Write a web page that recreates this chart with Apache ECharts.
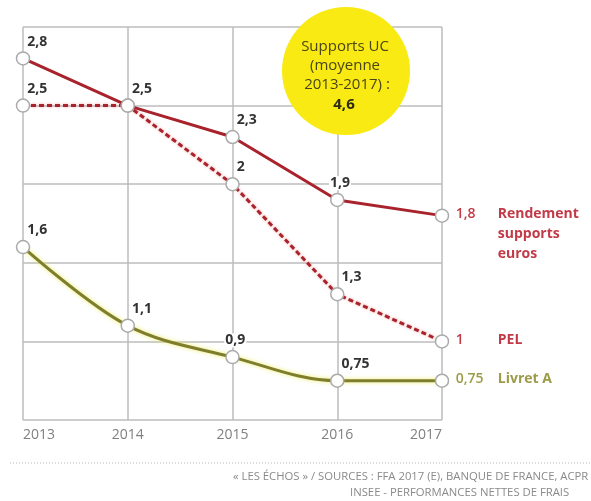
<!DOCTYPE html>
<html>
<head>
<meta charset="utf-8">
<script src="https://cdn.jsdelivr.net/npm/echarts@6/dist/echarts.min.js"></script>
<style>html,body{margin:0;padding:0;background:#fff}#c{width:591px;height:501px}</style>
</head>
<body>
<div id="c"></div>
<script>
var years = ['2013', '2014', '2015', '2016', '2017'];
var rendement = [2.8, 2.5, 2.3, 1.9, 1.8];
var pel = [2.5, 2.5, 2.0, 1.3, 1.0];
var livret = [1.6, 1.1, 0.9, 0.75, 0.75];
var rendementLabels = ['2,8', '2,5', '2,3', '1,9', '1,8'];
var pelLabels = ['2,5', '', '2', '1,3', '1'];
var livretLabels = ['1,6', '1,1', '0,9', '0,75', '0,75'];
var yTicks = [0.5, 1, 1.5, 2, 2.5, 3];
var endNames = { rendement: ['Rendement', 'supports', 'euros'], pel: ['PEL'], livret: ['Livret A'] };
var bubbleLines = ['Supports UC', '(moyenne', '2013-2017) :', '4,6'];
var footerLines = ['« LES ÉCHOS » / SOURCES : FFA 2017 (E), BANQUE DE FRANCE, ACPR', 'INSEE - PERFORMANCES NETTES DE FRAIS'];

var RED = '#a8232c', LRED = '#c23a47', OLIVE = '#7e7e2c', LOLIVE = '#9c9c48';
var FONT = '"Open Sans", sans-serif';

function pointLabel(txt, centered) {
  return {
    show: txt !== '',
    formatter: txt,
    position: centered ? [10, -9.5] : [10.5, -9.5],
    align: centered ? 'center' : 'left',
    verticalAlign: 'middle',
    fontFamily: FONT, fontWeight: 'bold', fontSize: 14, color: '#333',
    backgroundColor: '#fff', padding: [0, 1]
  };
}
function endLabel(valTxt, names, vColor, nColor) {
  var s = '{v|' + valTxt + '}{n|' + names[0] + '}';
  for (var i = 1; i < names.length; i++) s += '\n{v|}{n|' + names[i] + '}';
  return {
    show: true,
    formatter: s,
    position: [21, -4],
    align: 'left', verticalAlign: 'top',
    rich: {
      v: { width: 42, fontFamily: FONT, fontSize: 14, fontWeight: 600, color: vColor, lineHeight: 20, height: 20 },
      n: { fontFamily: FONT, fontSize: 14, fontWeight: 'bold', color: nColor, lineHeight: 20, height: 20 }
    }
  };
}
function buildData(vals, labels, centeredIdx, endCfg) {
  return vals.map(function (v, i) {
    if (i === vals.length - 1) return { value: v, label: endCfg };
    return { value: v, label: pointLabel(labels[i], centeredIdx.indexOf(i) >= 0) };
  });
}

var marker = { color: '#fff', borderColor: '#aaa', borderWidth: 1.5 };
var bubbleText = { fontFamily: FONT, fontSize: 15, fill: '#4a4618', align: 'center', verticalAlign: 'middle' };

var chart = echarts.init(document.getElementById('c'), null, { renderer: 'canvas' });
chart.setOption({
  backgroundColor: '#fff',
  animation: false,
  grid: { left: 23, right: 149, top: 27, bottom: 81 },
  xAxis: {
    type: 'category', data: years, boundaryGap: false,
    axisLine: { show: false }, axisTick: { show: false },
    axisLabel: { color: '#808080', fontSize: 14, fontFamily: FONT, margin: 8, alignMinLabel: 'left', alignMaxLabel: 'right' },
    splitLine: { show: true, lineStyle: { color: '#bdbdbd', width: 1.5 } }
  },
  yAxis: {
    type: 'value', min: yTicks[0], max: yTicks[yTicks.length - 1], interval: 0.5,
    axisLine: { show: false }, axisTick: { show: false }, axisLabel: { show: false },
    splitLine: { show: true, lineStyle: { color: '#bdbdbd', width: 1.5 } }
  },
  series: [
    {
      name: 'Livret A', type: 'line', smooth: 0.35, z: 3,
      data: buildData(livret, livretLabels, [2], endLabel(livretLabels[4], endNames.livret, LOLIVE, LOLIVE)),
      symbol: 'circle', symbolSize: 13, itemStyle: marker,
      lineStyle: { color: OLIVE, width: 3, shadowColor: 'rgba(235,235,90,0.9)', shadowBlur: 4 }
    },
    {
      name: 'PEL', type: 'line', z: 4,
      data: buildData(pel, pelLabels, [], endLabel(pelLabels[4], endNames.pel, LRED, LRED)),
      symbol: 'circle', symbolSize: 13, itemStyle: marker,
      lineStyle: { color: RED, width: 3, type: [5, 3], shadowColor: 'rgba(240,140,140,0.8)', shadowBlur: 3 }
    },
    {
      name: 'Rendement supports euros', type: 'line', z: 5,
      data: buildData(rendement, rendementLabels, [3], endLabel(rendementLabels[4], endNames.rendement, LRED, LRED)),
      symbol: 'circle', symbolSize: 13, itemStyle: marker,
      lineStyle: { color: RED, width: 3 }
    }
  ],
  graphic: [
    { type: 'circle', shape: { cx: 346, cy: 71, r: 64 }, style: { fill: '#f8ea12' }, z: 10 },
    { type: 'text', x: 345, y: 47, z: 11, style: Object.assign({ text: bubbleLines[0] }, bubbleText) },
    { type: 'text', x: 345, y: 66, z: 11, style: Object.assign({ text: bubbleLines[1] }, bubbleText) },
    { type: 'text', x: 347, y: 85, z: 11, style: Object.assign({ text: bubbleLines[2] }, bubbleText) },
    { type: 'text', x: 344, y: 105, z: 11, style: Object.assign({ text: bubbleLines[3] }, bubbleText, { fontWeight: 'bold', fill: '#2e2c10' }) },
    { type: 'line', shape: { x1: 10, y1: 463, x2: 591, y2: 463 }, style: { stroke: '#b5b5b5', lineWidth: 1, lineDash: [1, 2] } },
    { type: 'text', x: 233, y: 477, style: { text: footerLines[0], fontFamily: FONT, fontSize: 11.3, fill: '#8a8a8a', verticalAlign: 'middle' } },
    { type: 'text', x: 350, y: 493, style: { text: footerLines[1], fontFamily: FONT, fontSize: 11.3, fill: '#8a8a8a', verticalAlign: 'middle' } }
  ]
});
</script>
</body>
</html>
